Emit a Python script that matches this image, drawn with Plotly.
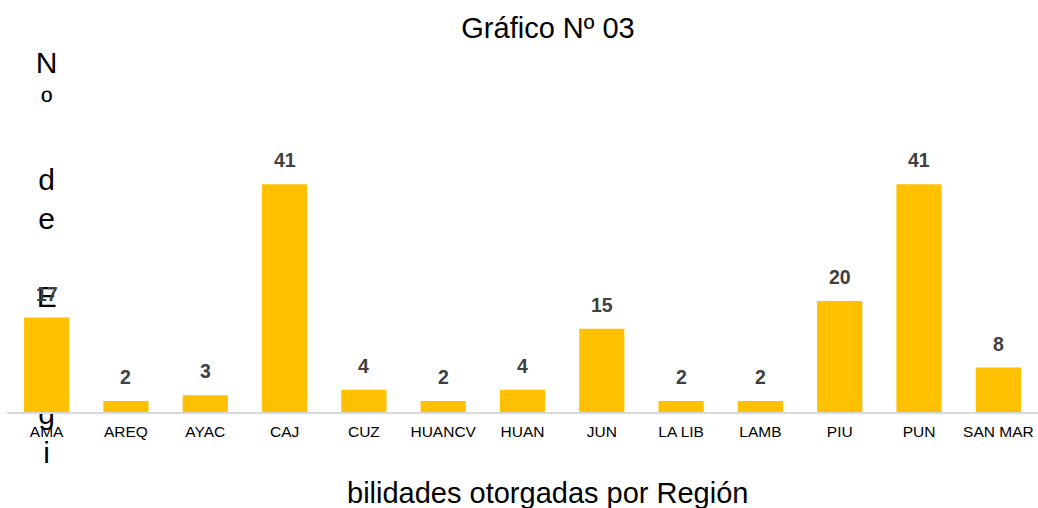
import plotly.graph_objects as go

regions = ["AMA", "AREQ", "AYAC", "CAJ", "CUZ", "HUANCV", "HUAN", "JUN",
           "LA LIB", "LAMB", "PIU", "PUN", "SAN MAR"]
values = [17, 2, 3, 41, 4, 2, 4, 15, 2, 2, 20, 41, 8]

chart_title = "Gráfico Nº 03"
axis_title = "Nº de Elegibilidades otorgadas por Región"
# the axis title is broken: first part stacked letter by letter, rest at the bottom
stacked_part = "Nº de Elegi"
bottom_part = "bilidades otorgadas por Región"

FONT = "Liberation Sans, Arial, sans-serif"
BAR = "#FFC000"

fig = go.Figure()

# stacked (vertical) letters, drawn beneath the bars
fig.add_trace(go.Scatter(
    x=[regions[0]], y=[27.3],
    mode="text",
    text=["<br>".join(ch for ch in stacked_part)],
    textposition="middle center",
    textfont=dict(family=FONT, size=30, color="#000000"),
    cliponaxis=False,
    hoverinfo="skip",
    showlegend=False,
    xaxis="x", yaxis="y",
))

fig.add_trace(go.Bar(
    x=regions, y=values,
    marker=dict(color=BAR, line=dict(width=0)),
    showlegend=False,
    xaxis="x2", yaxis="y2",
))

for r, v in zip(regions, values):
    fig.add_annotation(
        x=r, y=v, xref="x2", yref="y2",
        text=f"<b>{v}</b>",
        showarrow=False,
        yanchor="bottom",
        yshift=11,
        font=dict(family=FONT, size=19.5, color="#404040"),
    )

fig.add_annotation(
    x=0.5247, y=-0.322, xref="paper", yref="paper",
    text=bottom_part, showarrow=False,
    xanchor="center", yanchor="middle",
    font=dict(family=FONT, size=29, color="#000000"),
)

yr = [0, 45]
fig.update_layout(
    width=1038, height=508,
    margin=dict(l=7, r=0, t=162, b=96),
    paper_bgcolor="white", plot_bgcolor="white",
    bargap=0.43,
    title=dict(text=chart_title, x=548 / 1038, xanchor="center",
               y=1 - 28 / 508, yanchor="middle",
               font=dict(family=FONT, size=29, color="#000000")),
    xaxis=dict(
        type="category", categoryarray=regions, categoryorder="array",
        range=[-0.5, len(regions) - 0.5],
        showline=True, linecolor="#D9D9D9", linewidth=1.5,
        showgrid=False, zeroline=False, ticks="",
        ticklabelstandoff=5,
        tickfont=dict(family=FONT, size=15.5, color="#000000"),
        fixedrange=True,
    ),
    yaxis=dict(range=yr, visible=False, showgrid=False, zeroline=False),
    xaxis2=dict(
        type="category", categoryarray=regions, categoryorder="array",
        range=[-0.5, len(regions) - 0.5],
        overlaying="x", visible=False,
    ),
    yaxis2=dict(range=yr, overlaying="y", visible=False),
)

fig.write_html(
    "out.html",
    config={"displayModeBar": False},
    post_script="document.body.style.margin='0';document.body.style.overflow='hidden';",
)
